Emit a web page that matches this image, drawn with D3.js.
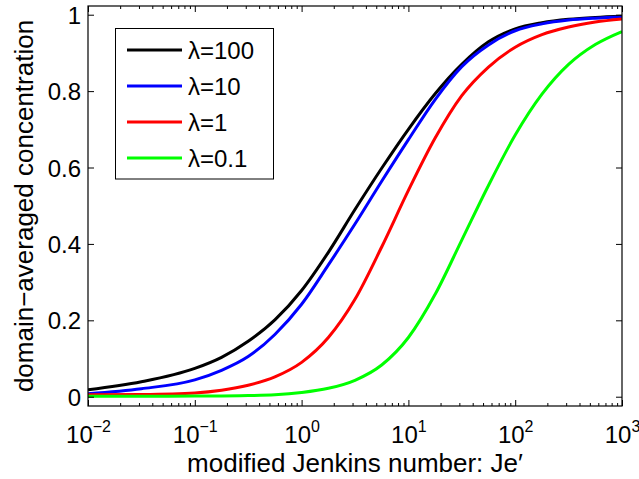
<!DOCTYPE html>
<html><head><meta charset="utf-8">
<script src="https://cdn.jsdelivr.net/npm/d3@7"></script>
<style>
body{margin:0;background:#fff;}
svg{display:block;}
text{font-family:"Liberation Sans",Arial,Helvetica,sans-serif;fill:#000;}
</style>
</head><body>
<svg id="c" width="639" height="479"></svg>
<script>
// ---- data ----
const jeValues = [0.01, 0.0316, 0.1, 0.178, 0.316, 0.562, 1, 1.78, 3.16, 5.62, 10, 17.8, 31.6, 56.2, 100, 178, 316, 562, 1000];
const concLambda100 = [0.018,0.039,0.074,0.103,0.145,0.201,0.278,0.378,0.490,0.598,0.700,0.793,0.870,0.929,0.963,0.979,0.988,0.993,0.996];
const concLambda10  = [0.008,0.021,0.044,0.069,0.105,0.163,0.242,0.345,0.452,0.564,0.673,0.778,0.864,0.921,0.958,0.976,0.986,0.991,0.994];
const concLambda1   = [0.005,0.006,0.010,0.017,0.030,0.052,0.090,0.155,0.255,0.392,0.540,0.677,0.788,0.863,0.915,0.948,0.968,0.981,0.989];
const concLambda01  = [0.001,0.001,0.002,0.002,0.003,0.005,0.011,0.022,0.043,0.083,0.155,0.268,0.410,0.553,0.685,0.792,0.870,0.922,0.956];
const seriesNames = ["λ=100","λ=10","λ=1","λ=0.1"];
const seriesColors = ["#000000","#0000ff","#ff0000","#00ff00"];
const xMajorTicks = [0.01, 0.1, 1, 10, 100, 1000];
const xTickExponents = ["−2","−1","0","1","2","3"];
const yTicks = [0, 0.2, 0.4, 0.6, 0.8, 1];
const yTickLabels = ["0","0.2","0.4","0.6","0.8","1"];
const xLabel = "modified Jenkins number: Je′";
const yLabel = "domain−averaged concentration";

const allSeries = [concLambda100, concLambda10, concLambda1, concLambda01];

// ---- layout ----
const L = 88, R = 622, T = 6, B = 406;
const svg = d3.select("#c");
const x = d3.scaleLog().domain([0.01, 1000]).range([L, R]);
const y = d3.scaleLinear().domain([-0.0243, 1.0228]).range([B, T]);

const minorTicks = [];
for (let e = -2; e < 3; e++) for (let k = 2; k <= 9; k++) minorTicks.push(k * Math.pow(10, e));

svg.append("rect").attr("x", L).attr("y", T).attr("width", R - L).attr("height", B - T)
  .attr("fill", "#fff");

// curves
const line = d3.line().x((d, i) => x(jeValues[i])).y(d => y(d)).curve(d3.curveMonotoneX);
svg.append("clipPath").attr("id", "clp").append("rect")
  .attr("x", L).attr("y", T).attr("width", R - L).attr("height", B - T);
allSeries.forEach((s, i) => {
  svg.append("path").datum(s).attr("d", line).attr("fill", "none")
    .attr("stroke", seriesColors[i]).attr("stroke-width", 3)
    .attr("stroke-linejoin", "round").attr("clip-path", "url(#clp)");
});

// axes
function styleAxis(g) {
  g.select(".domain").remove();
  g.selectAll(".tick line").attr("stroke", "#000").attr("stroke-width", 1);
}
const gxB = svg.append("g").attr("transform", `translate(0,${B})`)
  .call(d3.axisBottom(x).tickValues(xMajorTicks).tickSizeInner(-6).tickSizeOuter(0).tickPadding(14).tickFormat(() => ""));
styleAxis(gxB);
gxB.selectAll(".tick text").each(function(d, i) {
  const t = d3.select(this).attr("font-size", 24).attr("y", 37).attr("dy", null).attr("text-anchor", "middle");
  t.append("tspan").text("10");
  t.append("tspan").attr("font-size", 16).attr("dy", -11).text(xTickExponents[i]);
});
svg.append("g").attr("transform", `translate(0,${B})`)
  .call(d3.axisBottom(x).tickValues(minorTicks).tickSizeInner(-3).tickSizeOuter(0).tickFormat(() => ""))
  .call(styleAxis);
svg.append("g").attr("transform", `translate(0,${T})`)
  .call(d3.axisTop(x).tickValues(xMajorTicks).tickSizeInner(-6).tickSizeOuter(0).tickFormat(() => ""))
  .call(styleAxis);
svg.append("g").attr("transform", `translate(0,${T})`)
  .call(d3.axisTop(x).tickValues(minorTicks).tickSizeInner(-3).tickSizeOuter(0).tickFormat(() => ""))
  .call(styleAxis);
const gyL = svg.append("g").attr("transform", `translate(${L},0)`)
  .call(d3.axisLeft(y).tickValues(yTicks).tickSizeInner(-6).tickSizeOuter(0).tickPadding(14)
    .tickFormat((d, i) => yTickLabels[i]));
styleAxis(gyL);
gyL.selectAll(".tick text").attr("font-size", 24).attr("x", -7).attr("dy", "0.36em");
svg.append("g").attr("transform", `translate(${R},0)`)
  .call(d3.axisRight(y).tickValues(yTicks).tickSizeInner(-6).tickSizeOuter(0).tickFormat(() => ""))
  .call(styleAxis);

svg.append("rect").attr("x", L).attr("y", T).attr("width", R - L).attr("height", B - T)
  .attr("fill", "none").attr("stroke", "#000").attr("stroke-width", 1.2);

// labels
svg.append("text").attr("x", 355).attr("y", 472).attr("text-anchor", "middle")
  .attr("font-size", 26).text(xLabel);
svg.append("text").attr("transform", "translate(33,206) rotate(-90)").attr("text-anchor", "middle")
  .attr("font-size", 26).text(yLabel);

// legend
const lg = svg.append("g");
lg.append("rect").attr("x", 115.5).attr("y", 28.5).attr("width", 158).attr("height", 150.5)
  .attr("fill", "#fff").attr("stroke", "#000").attr("stroke-width", 1);
const rowY = d3.scalePoint().domain(seriesNames).range([50, 158]);
seriesNames.forEach((n, i) => {
  const yy = rowY(n);
  lg.append("line").attr("x1", 127).attr("x2", 182).attr("y1", yy).attr("y2", yy)
    .attr("stroke", seriesColors[i]).attr("stroke-width", 3);
  lg.append("text").attr("x", 188).attr("y", yy).attr("dy", "0.36em").attr("font-size", 24).text(n);
});
</script>
</body></html>
